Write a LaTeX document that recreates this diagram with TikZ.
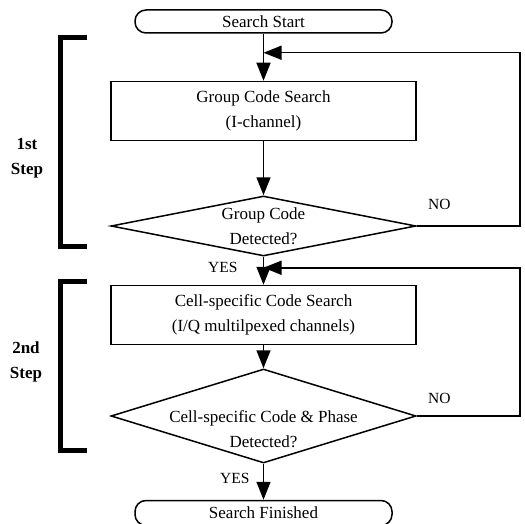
\documentclass[tikz,border=0pt]{standalone}
\usepackage{fontspec}
\setmainfont{Liberation Serif}
\usetikzlibrary{positioning,shapes.geometric,arrows.meta}

\begin{document}
\begin{tikzpicture}[line width=1.5pt,
    font=\fontsize{17}{25}\selectfont,
    term/.style={draw, rounded corners=11pt, minimum width=257pt, minimum height=23pt, inner sep=0pt},
    proc/.style={draw, minimum width=305pt, minimum height=59pt, align=center, inner sep=0pt},
    test/.style={draw, diamond, aspect=5, minimum width=305pt, inner sep=0pt, align=center},
    flow/.style={-{Triangle[length=18pt,width=14pt]}},
    answer/.style={font=\fontsize{15.5}{18}\selectfont},
    bracket/.style={line width=5pt},
    steplabel/.style={font=\fontsize{17}{25}\selectfont\bfseries, align=center}]
\useasboundingbox (0,0) rectangle (525pt,-524pt);

\node[term] (start) at (263.5pt,-21.5pt) {Search Start};
\node[proc, below=47pt of start] (grp) {Group Code Search\\(I-channel)};
\node[test, minimum height=60pt, below=54pt of grp] (grpok) {Group Code\\Detected?};
\node[proc, below=28pt of grpok] (cell) {Cell-specific Code Search\\(I/Q multilpexed channels)};
\node[test, minimum height=94pt, below=23pt of cell,
    label={[name=celltxt, yshift=-13pt, align=center]center:Cell-specific Code \& Phase\\Detected?}] (cellok) {};
\node[term, minimum height=25pt, below=36pt of cellok] (finish) {Search Finished};

\coordinate[below=19pt of start] (j1);
\coordinate[above=17pt of cell] (j2);

\draw[flow] (start) -- (grp);
\draw[flow] (grp) -- (grpok);
\draw[flow] (grpok) -- node[answer, left=22pt, yshift=3pt] (yes1) {YES} (cell);
\draw[flow] (cell) -- (cellok);
\draw[flow] (cellok) -- node[answer, left=10pt, yshift=3pt] (yes2) {YES} (finish);
\draw[flow] (grpok.east) -- node[answer, pos=0.22, above=12pt] (no1) {NO} ++(103pt,0) |- (j1);
\draw[flow] (cellok.east) -- node[answer, pos=0.22, above=8pt] (no2) {NO} ++(103pt,0) |- (j2);

\draw[bracket] (87pt,-38pt) -| (60pt,-246pt) -- (87pt,-246pt);
\draw[bracket] (87pt,-281pt) -| (60pt,-450pt) -- (87pt,-450pt);
\node[steplabel] (step1) at (27pt,-158pt) {1st\\Step};
\node[steplabel] (step2) at (26pt,-362pt) {2nd\\Step};
\end{tikzpicture}
\end{document}
